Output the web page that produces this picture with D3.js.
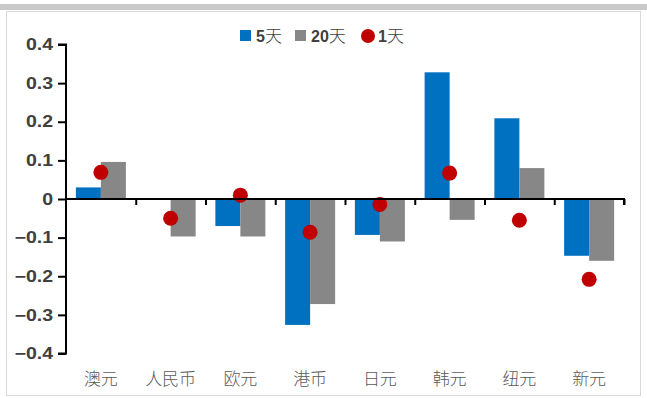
<!DOCTYPE html>
<html>
<head>
<meta charset="utf-8">
<script src="https://cdn.jsdelivr.net/npm/d3@7"></script>
<style>
  html, body { margin: 0; padding: 0; background: #fff; }
  svg { display: block; }
</style>
</head>
<body>
<svg id="chart" width="647" height="398"></svg>
<script>
// Currency names along the x axis
const categories = ["澳元", "人民币", "欧元", "港币", "日元", "韩元", "纽元", "新元"];
// 5-day change
const change5d = [0.03, 0, -0.07, -0.326, -0.093, 0.328, 0.209, -0.147];
// 20-day change
const change20d = [0.096, -0.097, -0.097, -0.272, -0.11, -0.054, 0.08, -0.16];
// 1-day change (dots)
const change1d = [0.069, -0.05, 0.01, -0.086, -0.014, 0.067, -0.055, -0.208];
// Y axis ticks
const yTicks = [0.4, 0.3, 0.2, 0.1, 0, -0.1, -0.2, -0.3, -0.4];
const seriesNames = ["5天", "20天", "1天"];

const colors = { d5: "#0070c0", d20: "#878787", d1: "#c00000" };

const svg = d3.select("#chart");

// Top band and frame
svg.append("rect").attr("x", 0).attr("y", 4).attr("width", 647).attr("height", 6).attr("fill", "#c9c9c9");
svg.append("rect").attr("x", 6.5).attr("y", 11.5).attr("width", 634).attr("height", 384)
  .attr("fill", "#fff").attr("stroke", "#d9d9d9").attr("stroke-width", 1);

const x0 = 66, x1 = 624;
const y = d3.scaleLinear().domain([-0.4, 0.4]).range([353.5, 44.5]);
const x = d3.scaleBand().domain(categories).range([x0, x1]).paddingInner(0.283).paddingOuter(0.1415);
const xs = d3.scaleBand().domain(["d5", "d20"]).range([0, x.bandwidth()]);

const g = svg.append("g");

// Bars
const rows = categories.map((c, i) => ({ c, d5: change5d[i], d20: change20d[i], d1: change1d[i] }));
["d5", "d20"].forEach(k => {
  g.selectAll(".bar-" + k).data(rows).enter().append("rect")
    .attr("x", d => x(d.c) + xs(k))
    .attr("width", xs.bandwidth())
    .attr("y", d => y(Math.max(0, d[k])))
    .attr("height", d => Math.abs(y(d[k]) - y(0)))
    .attr("fill", colors[k]);
});

// Y axis (labels drawn slightly wide)
const stretch = 1.22;
const yAxis = d3.axisLeft(y).tickValues(yTicks).tickSize(8).tickPadding(5)
  .tickFormat(d => d === 0 ? "0" : d3.format(".1f")(d));
const ya = svg.append("g").attr("transform", `translate(${x0},0)`).call(yAxis);
ya.select(".domain").attr("stroke", "#000").attr("stroke-width", 2).attr("d", `M-8,${y(0.4)}H0V${y(-0.4)}H-8`);
ya.selectAll(".tick line").attr("stroke", "#000").attr("stroke-width", 2);
ya.selectAll(".tick text")
  .attr("x", -13 / stretch)
  .attr("transform", `scale(${stretch},1)`)
  .attr("fill", "#404040")
  .style("font-family", "Arial, 'Liberation Sans', sans-serif").style("font-size", "16px").style("font-weight", "bold");

// Zero line with category ticks
const xAxis = d3.axisBottom(d3.scaleLinear().domain([0, 8]).range([x0, x1]))
  .tickValues(d3.range(1, 9)).tickSize(6).tickFormat("");
const xa = svg.append("g").attr("transform", `translate(0,${y(0)})`).call(xAxis);
xa.select(".domain").attr("stroke", "#000").attr("stroke-width", 2).attr("d", `M${x0},0H${x1}V6`);
xa.selectAll(".tick line").attr("stroke", "#000").attr("stroke-width", 2);

// Category labels
svg.append("g").selectAll("text").data(categories).enter().append("text")
  .attr("x", d => x(d) + x.bandwidth() / 2)
  .attr("y", 385)
  .attr("text-anchor", "middle")
  .attr("fill", "#595959")
  .style("font-family", "'Noto Sans CJK SC', sans-serif")
  .style("font-size", "17px")
  .style("font-weight", 300)
  .text(d => d);

// 1-day dots
g.selectAll(".dot").data(rows).enter().append("circle")
  .attr("cx", d => x(d.c) + x.bandwidth() / 2)
  .attr("cy", d => y(d.d1))
  .attr("r", 7.5)
  .attr("fill", colors.d1);

// Legend
const lg = svg.append("g").style("font-size", "16px").style("font-family", "Arial, 'Noto Sans CJK SC', sans-serif");
const legendItems = [
  { name: seriesNames[0], color: colors.d5, shape: "rect", x: 240 },
  { name: seriesNames[1], color: colors.d20, shape: "rect", x: 295 },
  { name: seriesNames[2], color: colors.d1, shape: "circle", x: 361 }
];
legendItems.forEach(it => {
  if (it.shape === "rect") {
    lg.append("rect").attr("x", it.x).attr("y", 30).attr("width", 11).attr("height", 11).attr("fill", it.color);
  } else {
    lg.append("circle").attr("cx", it.x + 7).attr("cy", 36).attr("r", 7).attr("fill", it.color);
  }
  const num = it.name.replace("天", "");
  const t = lg.append("text").attr("x", it.x + (it.shape === "rect" ? 16 : 17)).attr("y", 42).attr("fill", "#404040");
  t.append("tspan").style("font-weight", "bold").style("font-family", "Arial, 'Liberation Sans', sans-serif").text(num);
  t.append("tspan").style("font-family", "'Noto Sans CJK SC', sans-serif").style("font-weight", 300).style("font-size", "17px").text("天");
});
</script>
</body>
</html>
